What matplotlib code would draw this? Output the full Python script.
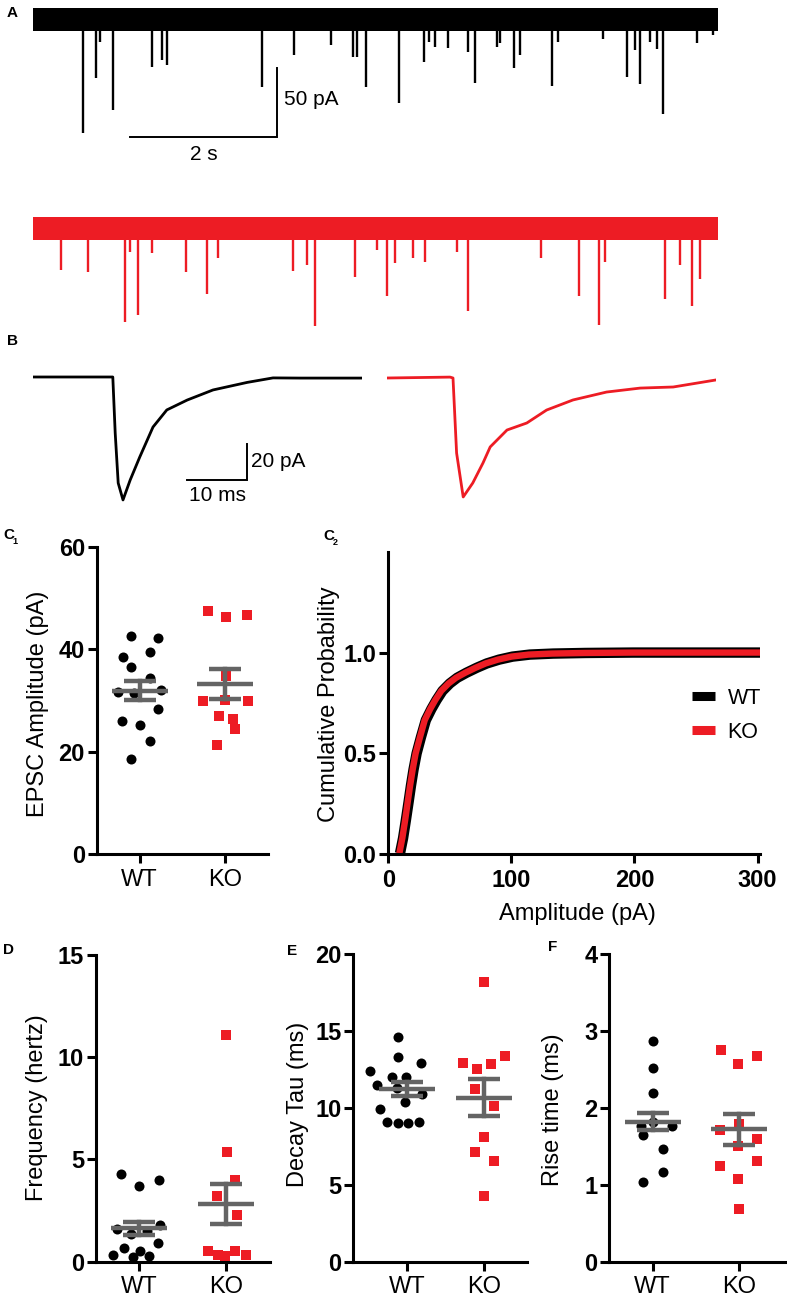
import numpy as np
import matplotlib
matplotlib.use('Agg')
import matplotlib.pyplot as plt
from matplotlib.lines import Line2D

plt.rcParams['font.family'] = ['Liberation Sans', 'DejaVu Sans']

RED = '#ED1C24'
GREY = '#646464'

# ---- A: spontaneous EPSC traces (event time s, amplitude pA) ----
trace_duration = 9.32
wt_event_t = [0.676, 0.857, 0.912, 1.084, 1.616, 1.755, 1.819, 3.116, 3.551, 4.050,
              4.349, 4.411, 4.527, 4.984, 5.324, 5.388, 5.469, 5.646, 5.914, 6.018,
              6.309, 6.354, 6.548, 6.626, 7.057, 7.143, 7.751, 8.078, 8.190, 8.259,
              8.395, 8.486, 8.576, 9.030, 9.256]
wt_event_amp = [82.2, 42.4, 16.3, 65.6, 34.4, 29.3, 33.0, 48.9, 25.7, 18.5,
                27.2, 27.2, 48.9, 60.5, 30.8, 16.3, 19.9, 20.7, 23.6, 46.0,
                19.9, 17.0, 35.1, 25.7, 48.2, 16.3, 14.1, 41.7, 22.1, 46.7,
                16.3, 21.4, 68.5, 17.0, 11.2]
ko_event_t = [0.381, 0.744, 1.256, 1.320, 1.433, 1.615, 2.082, 2.363, 2.521, 3.533,
              3.724, 3.841, 4.381, 4.676, 4.820, 4.925, 5.166, 5.333, 5.765, 5.914,
              6.916, 7.424, 7.705, 7.782, 8.599, 8.803, 8.962, 9.075]
ko_event_amp = [30.1, 31.3, 67.7, 17.0, 62.7, 17.8, 31.3, 47.5, 21.4, 30.6,
                26.4, 70.7, 35.0, 15.6, 49.1, 25.0, 21.4, 24.1, 16.9, 59.6,
                21.4, 48.9, 70.1, 24.1, 51.2, 26.4, 55.8, 36.6]
noise_pA = 8.5

# ---- B: averaged EPSCs (ms, pA) ----
wt_avg_t = [0, 13.3, 13.7, 14.2, 15.0, 16.2, 17.8, 20.0, 22.3, 25.7, 30.0, 35.7, 40.0, 44.5, 50.0, 54.8]
wt_avg_i = [0, 0, -31.1, -58.9, -68.3, -57.2, -44.4, -27.8, -18.3, -12.8, -7.2, -3.0, -0.5, -0.6, -0.6, -0.6]
ko_avg_t = [0, 10.5, 11.0, 11.6, 12.7, 14.3, 16.0, 17.2, 20.0, 23.3, 26.6, 31.0, 36.6, 42.2, 47.7, 54.8]
ko_avg_i = [0, 0.5, 0, -41.7, -66.1, -58.3, -47.2, -38.3, -28.9, -25.0, -17.8, -12.2, -7.8, -5.6, -5.0, -1.1]

# ---- C1: EPSC amplitude ----
c1_wt = [42.6, 42.1, 38.4, 39.4, 36.6, 34.3, 31.7, 32.1, 31.4, 28.3, 26.0, 25.1, 22.0, 18.6]
c1_ko = [47.5, 46.2, 46.6, 34.7, 29.9, 30.1, 29.9, 26.9, 26.4, 24.4, 21.2]
c1_mean = [31.9, 33.2]
c1_sem = [1.8, 3.0]

# ---- C2: cumulative amplitude distributions ----
cum_wt_amp = [9.5, 12, 14.3, 16.5, 18.4, 20.5, 23, 26.5, 30.5, 35, 39.2, 44, 50, 56, 63.5,
              72, 80, 90, 101, 115, 134, 160, 199, 303]
cum_wt_p = [0.005, 0.08, 0.17, 0.26, 0.34, 0.42, 0.5, 0.58, 0.665, 0.72, 0.765, 0.81, 0.847,
            0.875, 0.9, 0.925, 0.946, 0.965, 0.98, 0.99, 0.995, 0.998, 1.0, 1.0]
cum_ko_amp = [9.0, 11.4, 13.7, 15.8, 17.7, 19.8, 22.2, 25.7, 29.6, 34, 38.2, 43, 49, 55, 62.5,
              71, 79, 89, 100, 114, 133, 160, 199, 303]
cum_ko_p = [0.005, 0.08, 0.17, 0.26, 0.34, 0.42, 0.5, 0.58, 0.665, 0.72, 0.765, 0.81, 0.847,
            0.875, 0.9, 0.925, 0.946, 0.965, 0.98, 0.99, 0.995, 0.998, 1.0, 1.0]

# ---- D: frequency ----
d_wt = [4.3, 3.7, 4.0, 1.8, 1.6, 1.5, 0.9, 0.65, 0.5, 0.33, 0.28, 0.24, 1.35]
d_ko = [11.1, 5.35, 4.0, 3.2, 2.3, 0.5, 0.35, 0.5, 0.35, 0.28]
d_mean = [1.63, 2.82]
d_sem = [0.33, 0.98]

# ---- E: decay tau ----
e_wt = [14.6, 13.3, 12.9, 12.4, 12.0, 12.0, 11.5, 11.3, 10.9, 10.4, 9.9, 9.1, 9.0, 9.0, 9.1]
e_ko = [18.2, 12.9, 12.5, 12.85, 13.4, 11.2, 10.1, 8.1, 7.15, 6.55, 4.3]
e_mean = [11.2, 10.66]
e_sem = [0.45, 1.2]

# ---- F: rise time ----
f_wt = [2.87, 2.52, 2.19, 1.76, 1.76, 1.82, 1.65, 1.46, 1.16, 1.03]
f_ko = [2.75, 2.57, 2.67, 1.71, 1.79, 1.59, 1.50, 1.25, 1.31, 1.08, 0.68]
f_mean = [1.82, 1.72]
f_sem = [0.11, 0.20]

groups = ['WT', 'KO']

# horizontal scatter of the points (layout only)
c1_wt_dx = [-0.10, 0.21, -0.19, 0.12, -0.10, 0.12, -0.25, 0.25, -0.06, 0.21, -0.21, 0.0, 0.12, -0.10]
c1_ko_dx = [-0.20, 0.01, 0.25, 0.01, -0.26, 0.0, 0.27, -0.07, 0.09, 0.11, -0.09]
d_wt_dx = [-0.21, 0.0, 0.23, 0.24, -0.25, 0.09, 0.22, -0.17, 0.01, -0.30, 0.11, -0.07, -0.09]
d_ko_dx = [0.0, 0.01, 0.10, -0.11, 0.12, -0.21, -0.10, 0.10, 0.23, -0.02]
e_wt_dx = [-0.11, -0.11, 0.18, -0.48, -0.19, -0.01, -0.38, -0.13, 0.19, -0.02, -0.35, -0.26, -0.12, 0.02, 0.16]
e_ko_dx = [0.0, -0.28, -0.09, 0.09, 0.27, -0.12, 0.12, 0.0, -0.12, 0.12, 0.0]
f_wt_dx = [0.01, 0.01, 0.01, -0.13, 0.22, 0.01, -0.11, 0.12, 0.12, -0.11]
f_ko_dx = [-0.21, -0.01, 0.21, -0.22, 0.0, 0.21, -0.01, -0.22, 0.21, -0.01, 0.0]

W, H = 787, 1298
fig = plt.figure(figsize=(W / 100, H / 100), dpi=100)


def px_axes(left, top, right, bottom):
    return fig.add_axes([left / W, 1 - bottom / H, (right - left) / W, (bottom - top) / H])


def px_text(x, y, s, **kw):
    fig.text(x / W, 1 - y / H, s, **kw)


def trace_axes(left, top, right, bottom, base_px, px_per_x, px_per_y):
    ax = px_axes(left, top, right, bottom)
    ax.set_xlim(0, (right - left) / px_per_x)
    ax.set_ylim(-(bottom - base_px) / px_per_y, (base_px - top) / px_per_y)
    ax.axis('off')
    return ax


# A traces
ax = trace_axes(33, 0, 718, 180, 19.5, 73.5, 1.38)
ax.fill_between([0, trace_duration], -noise_pA, noise_pA, color='k', lw=0)
ax.vlines(wt_event_t, 0, -np.array(wt_event_amp), color='k', lw=1.7)
ax.plot([1.32, 3.32, 3.32], [-85, -85, -35], color='k', lw=1.4, solid_joinstyle='miter')
ax.text(2.32, -98, '2 s', ha='center', va='center', fontsize=15)
ax.text(3.41, -58, '50 pA', ha='left', va='center', fontsize=15)

ax = trace_axes(33, 190, 718, 340, 228.5, 73.5, 1.38)
ax.fill_between([0, trace_duration], -noise_pA, noise_pA, color=RED, lw=0)
ax.vlines(ko_event_t, 0, -np.array(ko_event_amp), color=RED, lw=1.7)

# B averages
ax = trace_axes(33, 350, 362, 515, 377, 6.0, 1.8)
ax.plot(wt_avg_t, wt_avg_i, color='k', lw=2)
ax.plot([25.7, 35.7, 35.7], [-57.2, -57.2, -37.2], color='k', lw=1.4, solid_joinstyle='miter')
ax.text(36.4, -47, '20 pA', ha='left', va='center', fontsize=15)
ax.text(30.7, -66, '10 ms', ha='center', va='center', fontsize=15)

ax = trace_axes(387, 350, 716, 515, 378, 6.0, 1.8)
ax.plot(ko_avg_t, ko_avg_i, color=RED, lw=2)


def style_axes(ax, bold_x=False):
    for s in ['top', 'right']:
        ax.spines[s].set_visible(False)
    for s in ['left', 'bottom']:
        ax.spines[s].set_linewidth(2.2)
    ax.tick_params(width=2.2, length=6.5, labelsize=17, pad=2)
    ax.tick_params(axis='x', pad=4)
    for lab in ax.get_yticklabels():
        lab.set_fontweight('bold')
    if bold_x:
        for lab in ax.get_xticklabels():
            lab.set_fontweight('bold')


def dot_panel(rect, xlim, wt, wt_dx, ko, ko_dx, mean, sem, ylim, yticks):
    ax = px_axes(*rect)
    ax.scatter(np.array(wt_dx), wt, s=52, color='k', marker='o', lw=0, zorder=2, clip_on=False)
    ax.scatter(1 + np.array(ko_dx), ko, s=46, color=RED, marker='s', lw=0, zorder=2, clip_on=False)
    px_unit = (rect[2] - rect[0]) / (xlim[1] - xlim[0])
    half_m = 28 / px_unit
    half_c = 16 / px_unit
    for i in range(2):
        ax.plot([i - half_m, i + half_m], [mean[i]] * 2, color=GREY, lw=3.2, zorder=3, solid_capstyle='butt')
        ax.plot([i - half_c, i + half_c], [mean[i] + sem[i]] * 2, color=GREY, lw=3.2, zorder=3, solid_capstyle='butt')
        ax.plot([i - half_c, i + half_c], [mean[i] - sem[i]] * 2, color=GREY, lw=3.2, zorder=3, solid_capstyle='butt')
        ax.plot([i, i], [mean[i] - sem[i], mean[i] + sem[i]], color=GREY, lw=3.2, zorder=3)
    ax.set_xlim(*xlim)
    ax.set_ylim(*ylim)
    ax.set_yticks(yticks)
    ax.set_xticks([0, 1])
    ax.set_xticklabels(groups, fontsize=16)
    style_axes(ax)
    return ax


dot_panel((96.7, 546.7, 268, 854), (-0.5, 1.5), c1_wt, c1_wt_dx, c1_ko, c1_ko_dx,
          c1_mean, c1_sem, (0, 60), [0, 20, 40, 60])
dot_panel((95.7, 955, 270, 1261.7), (-0.5, 1.5), d_wt, d_wt_dx, d_ko, d_ko_dx,
          d_mean, d_sem, (0, 15), [0, 5, 10, 15])
dot_panel((353.3, 954, 527, 1261.7), (-0.69, 1.55), e_wt, e_wt_dx, e_ko, e_ko_dx,
          e_mean, e_sem, (0, 20), [0, 5, 10, 15, 20])
dot_panel((609.3, 954, 785, 1261.7), (-0.5, 1.53), f_wt, f_wt_dx, f_ko, f_ko_dx,
          f_mean, f_sem, (0, 4), [0, 1, 2, 3, 4])

# C2 cumulative
ax = px_axes(388.3, 551.7, 760, 854.3)
ax.plot(cum_wt_amp, cum_wt_p, color='k', lw=7.5, solid_capstyle='butt', solid_joinstyle='round')
ax.plot(cum_ko_amp, cum_ko_p, color=RED, lw=4.6, solid_capstyle='butt', solid_joinstyle='round')
ax.set_xlim(0, 302)
ax.set_ylim(0, 1.5)
ax.set_xticks([0, 100, 200, 300])
ax.set_yticks([0, 0.5, 1.0])
ax.set_yticklabels(['0.0', '0.5', '1.0'])
style_axes(ax, bold_x=True)
ax.legend(handles=[Line2D([], [], color='k', lw=6.5, solid_capstyle='butt'),
                   Line2D([], [], color=RED, lw=6.5, solid_capstyle='butt')],
          labels=groups, frameon=False, loc='center left', bbox_to_anchor=(0.765, 0.46),
          handlelength=1.05, handletextpad=0.6, labelspacing=0.6, fontsize=15.5)

# axis labels
px_text(38.5, 704, 'EPSC Amplitude (pA)', rotation=90, ha='center', va='center', fontsize=17)
px_text(329, 704, 'Cumulative Probability', rotation=90, ha='center', va='center', fontsize=17)
px_text(577, 914, 'Amplitude (pA)', ha='center', va='center', fontsize=17)
px_text(37.5, 1108, 'Frequency (hertz)', rotation=90, ha='center', va='center', fontsize=17)
px_text(298, 1104, 'Decay Tau (ms)', rotation=90, ha='center', va='center', fontsize=17)
px_text(553.5, 1110, 'Rise time (ms)', rotation=90, ha='center', va='center', fontsize=17)

# panel letters
lk = dict(fontsize=11, fontweight='bold', va='center', ha='left')
px_text(7, 13, 'A', **lk)
px_text(7, 341, 'B', **lk)
px_text(3, 535, 'C', **lk)
px_text(12.5, 541, '1', fontsize=6.5, fontweight='bold', va='center', ha='left')
px_text(323, 536, 'C', **lk)
px_text(332.5, 542, '2', fontsize=6.5, fontweight='bold', va='center', ha='left')
px_text(3, 950, 'D', **lk)
px_text(287, 951, 'E', **lk)
px_text(548, 947, 'F', **lk)

fig.savefig('out.png', dpi=100)
